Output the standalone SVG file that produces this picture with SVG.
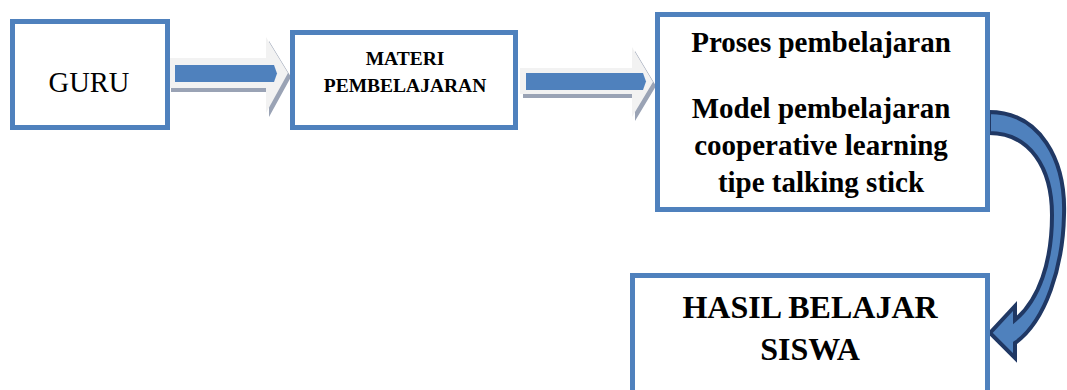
<svg xmlns="http://www.w3.org/2000/svg" width="1067" height="390" viewBox="0 0 1067 390">
<style>
.box{fill:#fff;stroke:#4F81BD;stroke-width:5}
.t{font-family:"Liberation Serif","Times New Roman",serif;fill:#000;text-anchor:middle}
.b{font-weight:bold}
.ba{fill:#F2F2F2}
.sh{fill:#9AA3B5}
.bar{fill:#4F81BD}
.curve{fill:#4F81BD;stroke:#203864;stroke-width:4;stroke-linejoin:miter}
</style>
<rect width="1067" height="390" fill="#fff"/>
<g id="connectors">
  <g id="arrow-guru-materi">
    <path class="sh" d="M171 62 H269 V41 L291 77 L269 117 V92 H171 Z"/>
    <path class="ba" d="M168 58 H266 V37 L288 73 L266 113 V88 H168 Z"/>
    <path class="bar" d="M175 65 H274 L277 73.5 L274 82 H175 Z"/>
  </g>
  <g id="arrow-materi-proses">
    <path class="sh" d="M523 72 H635 V51 L656 86 L635 121 V98 H523 Z"/>
    <path class="ba" d="M520 68 H632 V47 L653 82 L632 117 V94 H520 Z"/>
    <path class="bar" d="M526 73 H643 L646 81.5 L643 90 H526 Z"/>
  </g>
  <g id="arrow-proses-hasil">
    <path class="curve" d="M989 112 C1040 112 1066 160 1064 215 C1063 266 1046 321 1015 343 L1015 358 L990 333 L1015 306 L1015 320 C1039 300 1052 262 1052 215 C1052 168 1030 133 989 133 Z"/>
  </g>
</g>
<g id="guru">
  <rect class="box" x="12.5" y="21.5" width="155" height="106"/>
  <text class="t" x="89" y="92" font-size="28.5">GURU</text>
</g>
<g id="materi">
  <rect class="box" x="292.5" y="32.5" width="223" height="95"/>
  <text class="t b" x="405" y="65" font-size="19.5">MATERI</text>
  <text class="t b" x="405" y="92" font-size="19.5">PEMBELAJARAN</text>
</g>
<g id="proses">
  <rect class="box" x="657.5" y="14.5" width="330" height="195"/>
  <text class="t b" x="821" y="52" font-size="29">Proses pembelajaran</text>
  <text class="t b" x="821" y="118" font-size="29">Model pembelajaran</text>
  <text class="t b" x="821" y="155" font-size="29">cooperative learning</text>
  <text class="t b" x="821" y="192" font-size="29">tipe talking stick</text>
</g>
<g id="hasil">
  <rect class="box" x="632.5" y="275.5" width="355" height="130"/>
  <text class="t b" x="810" y="318" font-size="32">HASIL BELAJAR</text>
  <text class="t b" x="810" y="360" font-size="32">SISWA</text>
</g>
</svg>
